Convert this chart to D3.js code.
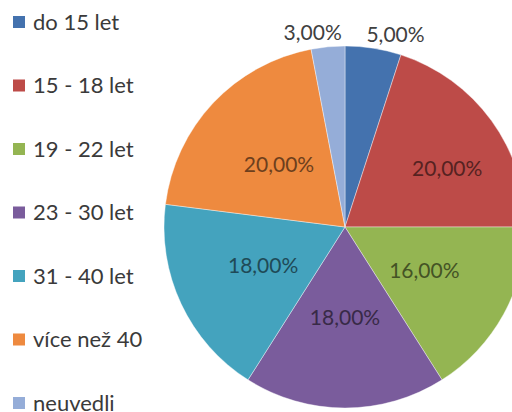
<!DOCTYPE html>
<html>
<head>
<meta charset="utf-8">
<script src="https://cdn.jsdelivr.net/npm/d3@7"></script>
<style>
  body { margin: 0; background: #fff; }
  text { font-family: Lato, "Open Sans", sans-serif; }
</style>
</head>
<body>
<div id="chart"></div>
<script>
const categories = ["do 15 let", "15 - 18 let", "19 - 22 let", "23 - 30 let", "31 - 40 let", "více než 40", "neuvedli"]
const values = [5, 20, 16, 18, 18, 20, 3]
const colors = ["#4472AE", "#BD4B48", "#94B552", "#7A5C9C", "#44A3BE", "#EE8A3F", "#95ADD8"]

const width = 512
const height = 412
const cx = 345
const cy = 227
const radius = 181

// Excel moved a few labels around, so nudge them
const nudges = {
  "do 15 let": [20, 0],
  "15 - 18 let": [29, -5],
  "neuvedli": [-14, 0]
}

const svg = d3.select('#chart').append('svg').attr('width', width).attr('height', height)

const data = categories.map(function(c, i) {
  return { name: c, value: values[i], color: colors[i] }
})

const pie = d3.pie().sort(null).value(function(d) { return d.value })
const arcs = pie(data)

const arc = d3.arc().innerRadius(0).outerRadius(radius)
const inner = d3.arc().innerRadius(radius * 0.5).outerRadius(radius * 0.5)
const outer = d3.arc().innerRadius(radius + 14).outerRadius(radius + 14)

const fmt = function(v) {
  return v.toFixed(2).replace('.', ',') + '%'
}

const g = svg.append('g').attr('transform', 'translate(' + cx + ',' + cy + ')')

g.selectAll('path').data(arcs)
  .enter()
  .append('path')
  .attr('d', arc)
  .attr('fill', function(d) { return d.data.color })
  .attr('stroke', '#ffffff')
  .attr('stroke-opacity', 0.5)
  .attr('stroke-width', 0.8)

g.selectAll('text.lbl').data(arcs)
  .enter()
  .append('text')
  .attr('class', 'lbl')
  .attr('transform', function(d) {
    const small = d.data.value < 10
    const p = small ? outer.centroid(d) : inner.centroid(d)
    const n = nudges[d.data.name] || [0, 0]
    return 'translate(' + (p[0] + n[0]) + ',' + (p[1] + n[1]) + ')'
  })
  .attr('text-anchor', 'middle')
  .attr('dy', '0.35em')
  .attr('font-size', '21px')
  .attr('fill', function(d) {
    if (d.data.value < 10) return '#404040'
    return d3.color(d.data.color).darker(2.2)
  })
  .text(function(d) { return fmt(d.data.value) })

const legend = svg.append('g')
const rowY = d3.scalePoint().domain(categories).range([22, 403])

const items = legend.selectAll('g').data(data)
  .enter()
  .append('g')
  .attr('transform', function(d) { return 'translate(0,' + rowY(d.name) + ')' })

items.append('rect')
  .attr('x', 13)
  .attr('y', -6)
  .attr('width', 12)
  .attr('height', 12)
  .attr('fill', function(d) { return d.color })

items.append('text')
  .attr('x', 33)
  .attr('dy', '0.35em')
  .attr('font-size', '22px')
  .attr('fill', '#3a3a3a')
  .text(function(d) { return d.name })
</script>
</body>
</html>
